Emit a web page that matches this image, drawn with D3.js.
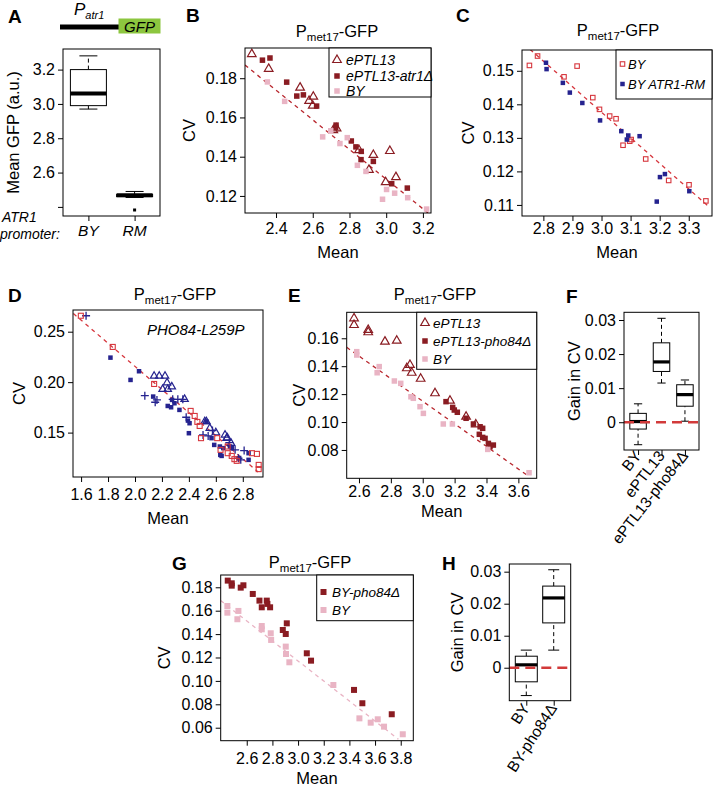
<!DOCTYPE html>
<html>
<head>
<meta charset="utf-8" />
<script src="https://cdn.jsdelivr.net/npm/d3@7"></script>
<style>
  body { margin: 0; background: #fff; }
  svg text { font-family: "Liberation Sans", Arial, sans-serif; fill: #000; }
</style>
</head>
<body>
<script>

// ---- data ----

// A: mean GFP boxplots [lower whisker, q1, median, q3, upper whisker]
var aCats = ["BY", "RM"];
var aStats = [[2.97, 2.99, 3.06, 3.20, 3.28], [2.455, 2.46, 2.468, 2.472, 2.49]];
var aOutliers = [["RM", 2.382]];
var aTicks = [2.4, 2.6, 2.8, 3.0, 3.2];
var aTickLabels = ["", "2.6", "2.8", "3.0", "3.2"];

// B: [mean, CV]
var bPTL13 = [[2.268,0.1923],[2.36,0.1848],[2.531,0.1752],[2.58,0.1684],[2.603,0.1706],[2.6,0.166],
  [2.712,0.1535],[2.73,0.1544],[2.852,0.1433],[2.93,0.1409],[2.906,0.1333],[3.02,0.1429],[2.997,0.127],[3.053,0.1296]];
var bAtr1 = [[2.326,0.1892],[2.367,0.1903],[2.458,0.178],[2.513,0.1709],[2.549,0.1715],[2.621,0.1658],
  [2.727,0.1561],[2.725,0.1549],[2.81,0.148],[2.835,0.145],[2.864,0.1427],[2.863,0.1385],[2.93,0.1376],[3.03,0.1262],[3.115,0.124]];
var bBY = [[2.353,0.1781],[2.447,0.1682],[2.654,0.1501],[2.698,0.1532],[2.748,0.1467],[2.788,0.1497],
  [2.843,0.1356],[2.89,0.1325],[2.98,0.1183],[3.002,0.1233],[3.046,0.1214],[3.117,0.1191],[3.22,0.1133]];
var bFit = [[2.231,0.1867],[3.228,0.1113]];
var bXTicks = [2.4, 2.6, 2.8, 3.0, 3.2];
var bYTicks = [0.12, 0.14, 0.16, 0.18];

// C
var cBY = [[2.752,0.1516],[2.78,0.1544],[2.871,0.1482],[2.916,0.1514],[2.97,0.142],[2.993,0.1385],[3.028,0.1365],
  [3.05,0.1357],[3.074,0.1278],[3.097,0.129],[3.102,0.1295],[3.152,0.1237],[3.231,0.1173],[3.301,0.116],[3.359,0.1112]];
var cRM = [[2.809,0.1524],[2.811,0.1505],[2.867,0.1464],[2.891,0.1435],[2.934,0.1404],[2.995,0.1352],[3.068,0.132],
  [3.087,0.1295],[3.092,0.1307],[3.131,0.1305],[3.201,0.1183],[3.218,0.1192],[3.19,0.111],[3.302,0.1141]];
var cFit = [[2.754,0.1564],[3.369,0.1095]];
var cXTicks = [2.8, 2.9, 3.0, 3.1, 3.2, 3.3];
var cYTicks = [0.11, 0.12, 0.13, 0.14, 0.15];

// D
var dRedSq = [[1.598,0.2658],[1.835,0.2349],[2.142,0.1982],[2.413,0.1715],[2.443,0.1665],[2.463,0.1606],[2.48,0.1566],
  [2.49,0.1445],[2.61,0.1445],[2.635,0.1329],[2.688,0.1362],[2.688,0.1296],[2.718,0.1269],[2.738,0.1237],
  [2.755,0.122],[2.868,0.1296],[2.905,0.1289],[2.918,0.118],[2.918,0.1138]];
var dBlueSq = [[1.818,0.2243],[1.967,0.2022],[2.03,0.2108],[2.135,0.1857],[2.243,0.1764],[2.268,0.1751],[2.275,0.1824],
  [2.293,0.1791],[2.33,0.1725],[2.393,0.1619],[2.405,0.1593],[2.4,0.1494],[2.53,0.161],[2.568,0.1445],[2.588,0.1378],
  [2.63,0.1362],[2.655,0.1346],[2.643,0.1269],[2.633,0.1279],[2.705,0.1362],[2.718,0.1346],[2.768,0.1246],
  [2.843,0.1296],[2.843,0.123]];
var dPlus = [[1.637,0.2658],[2.073,0.1866],[2.163,0.1824],[2.15,0.1801],[2.28,0.183],[2.318,0.183],[2.355,0.183],
  [2.38,0.1652],[2.505,0.1477],[2.543,0.1467],[2.575,0.152],[2.7,0.14],[2.743,0.1329],[2.768,0.1246],[2.785,0.123],[2.81,0.1322]];
var dTri = [[2.142,0.2061],[2.18,0.2061],[2.223,0.2061],[2.238,0.1995],[2.205,0.193],[2.243,0.193],[2.273,0.1955],
  [2.368,0.1831],[2.518,0.1609],[2.53,0.161],[2.555,0.1544],[2.6,0.15],[2.668,0.1477],[2.68,0.1445],[2.685,0.145],[2.713,0.1395]];
var dFit = [[1.543,0.268],[2.913,0.111]];
var dXTicks = [1.6, 1.8, 2.0, 2.2, 2.4, 2.6, 2.8];
var dYTicks = [0.15, 0.20, 0.25];

// E
var ePTL13 = [[2.569,0.1743],[2.569,0.1695],[2.658,0.166],[2.658,0.1643],[2.763,0.1576],[2.837,0.1583],[2.9,0.1385],
  [2.92,0.1409],[2.931,0.1353],[2.987,0.131],[3.077,0.1206],[3.171,0.1153],[3.272,0.1038],[3.333,0.0983]];
var ePho = [[3.146,0.1146],[3.188,0.1105],[3.198,0.1086],[3.217,0.107],[3.272,0.1027],[3.318,0.0986],[3.355,0.0912],
  [3.376,0.089],[3.376,0.0955],[3.36,0.0966],[3.391,0.0883],[3.412,0.0847],[3.443,0.0835],[3.422,0.0823]];
var eBY = [[2.586,0.1504],[2.586,0.148],[2.727,0.1397],[2.714,0.1353],[2.822,0.1294],[2.862,0.1277],[2.926,0.1181],
  [2.941,0.117],[2.983,0.111],[3.004,0.1062],[3.129,0.0986],[3.186,0.0986],[3.408,0.0804],[3.667,0.0637]];
var eFit = [[2.523,0.1535],[3.66,0.0615]];
var eXTicks = [2.6, 2.8, 3.0, 3.2, 3.4, 3.6];
var eYTicks = [0.08, 0.10, 0.12, 0.14, 0.16];

// F: gain in CV boxplots
var fCats = ["BY", "ePTL13", "ePTL13-pho84Δ"];
var fStats = [[-0.0066, -0.002, 0.0002, 0.0026, 0.0054], [0.0115, 0.0149, 0.0177, 0.0233, 0.0305], [0.0003, 0.0047, 0.0081, 0.011, 0.0124]];
var gainTicks = [0, 0.01, 0.02, 0.03];
var gainLabels = ["0", "0.01", "0.02", "0.03"];

// G
var gPho = [[2.452,0.1857],[2.483,0.1834],[2.483,0.1814],[2.553,0.1797],[2.574,0.1817],[2.647,0.1743],[2.699,0.1686],
  [2.717,0.1629],[2.756,0.1686],[2.761,0.1658],[2.782,0.1629],[2.881,0.1435],[2.912,0.1492],[2.904,0.1401],
  [3.068,0.1236],[3.101,0.1173],[3.436,0.0923],[3.501,0.0809],[3.73,0.0715]];
var gBY = [[2.449,0.164],[2.449,0.1583],[2.535,0.1598],[2.527,0.1527],[2.717,0.1469],[2.717,0.1441],[2.787,0.1407],
  [2.79,0.135],[2.904,0.1293],[2.906,0.123],[2.932,0.1159],[3.275,0.0965],[3.478,0.068],[3.566,0.0643],
  [3.621,0.0672],[3.67,0.0609],[3.816,0.0544]];
var gFit = [[2.397,0.1686],[3.782,0.0501]];
var gXTicks = [2.6, 2.8, 3.0, 3.2, 3.4, 3.6, 3.8];
var gYTicks = [0.06, 0.08, 0.10, 0.12, 0.14, 0.16, 0.18];

// H
var hCats = ["BY", "BY-pho84Δ"];
var hStats = [[-0.0087, -0.0044, 0.0009, 0.0036, 0.0055], [0.0055, 0.014, 0.0218, 0.0255, 0.0306]];

// ---- colours ----
var darkRed = "#8a1c22", pink = "#e9b4c4", red = "#d6363d", navy = "#25238f";
var fitRed = "#b8262d", zeroRed = "#d23a3a";

var svg = d3.select("body").append("svg").attr("width", 713).attr("height", 786);

var tickFont = 16;

function styleAxis(sel) {
    sel.attr("font-family", null).attr("font-size", null);
    sel.select(".domain").remove();
    sel.selectAll("line").attr("stroke", "#000");
    sel.selectAll("text").attr("font-size", tickFont).attr("fill", "#000");
}

function frame(g, o) {
    g.append("rect").attr("x", o.l).attr("y", o.t)
        .attr("width", o.r - o.l).attr("height", o.b - o.t)
        .attr("fill", "none").attr("stroke", "#000").attr("stroke-width", 1);
}

function drawSymbol(g, shape, color, px, py, size) {
    if (shape == "tri") {
        g.append("path").attr("d", d3.symbol(d3.symbolTriangle, size || 32)())
            .attr("transform", "translate(" + px + "," + py + ")")
            .attr("fill", "none").attr("stroke", color).attr("stroke-width", 1.2);
    } else if (shape == "sq") {
        size = size || 5.5;
        g.append("rect").attr("x", px - size / 2).attr("y", py - size / 2)
            .attr("width", size).attr("height", size).attr("fill", color);
    } else if (shape == "osq") {
        size = size || 5.5;
        g.append("rect").attr("x", px - size / 2).attr("y", py - size / 2)
            .attr("width", size).attr("height", size)
            .attr("fill", "none").attr("stroke", color).attr("stroke-width", 1.1);
    } else if (shape == "plus") {
        g.append("path").attr("d", "M-4,0H4M0,-4V4")
            .attr("transform", "translate(" + px + "," + py + ")")
            .attr("stroke", color).attr("stroke-width", 1.3);
    }
}

function title(x, y) {
    var t = svg.append("text").attr("x", x).attr("y", y).attr("text-anchor", "middle").attr("font-size", 16.5);
    t.append("tspan").text("P");
    t.append("tspan").attr("dy", 4).attr("font-size", 11.5).text("met17");
    t.append("tspan").attr("dy", -4).text("-GFP");
}

function letter(s, x, y) {
    svg.append("text").attr("x", x).attr("y", y).attr("font-size", 19)
        .attr("font-weight", "bold").text(s);
}

function scatterPanel(o) {
    var x = d3.scaleLinear().domain(o.xDom).range([o.l, o.r]);
    var y = d3.scaleLinear().domain(o.yDom).range([o.b, o.t]);
    var g = svg.append("g");

    g.append("g").attr("transform", "translate(0," + o.b + ")")
        .call(d3.axisBottom(x).tickValues(o.xTicks).tickSize(5).tickPadding(o.xPad).tickFormat(d3.format(".1f")))
        .call(styleAxis);
    g.append("g").attr("transform", "translate(" + o.l + ",0)")
        .call(d3.axisLeft(y).tickValues(o.yTicks).tickSize(5).tickPadding(3).tickFormat(d3.format(o.yFmt)))
        .call(styleAxis);

    var clipId = "clip" + o.id;
    svg.append("clipPath").attr("id", clipId).append("rect")
        .attr("x", o.l).attr("y", o.t).attr("width", o.r - o.l).attr("height", o.b - o.t);
    var plot = g.append("g").attr("clip-path", "url(#" + clipId + ")");

    plot.append("line")
        .attr("x1", x(o.fit[0][0])).attr("y1", y(o.fit[0][1]))
        .attr("x2", x(o.fit[1][0])).attr("y2", y(o.fit[1][1]))
        .attr("stroke", o.fitColor).attr("stroke-width", 1.3).attr("stroke-dasharray", "4,4");

    o.series.forEach(function (s) {
        s.data.forEach(function (d) {
            drawSymbol(plot, s.shape, s.color, x(d[0]), y(d[1]), s.size);
        });
    });

    frame(g, o);

    if (o.legend) {
        var L = o.legend;
        g.append("rect").attr("x", L.l).attr("y", o.t).attr("width", o.r - L.l).attr("height", L.b - o.t)
            .attr("fill", "#fff").attr("stroke", "#000");
        o.series.forEach(function (s, i) {
            drawSymbol(g, s.shape, s.color, L.symX, L.rows[i], s.size);
            g.append("text").attr("x", L.textX).attr("y", L.rows[i] + 5)
                .attr("font-size", L.font).attr("font-style", "italic").text(s.label);
        });
    }

    // axis titles
    g.append("text").attr("x", (o.l + o.r) / 2).attr("y", o.meanY)
        .attr("text-anchor", "middle").attr("font-size", 16.5).text("Mean");
    g.append("text").attr("transform", "translate(" + o.cvX + "," + (o.t + o.b) / 2 + ") rotate(-90)")
        .attr("text-anchor", "middle").attr("font-size", 16.5).text("CV");
}

function boxPanel(o) {
    var x = d3.scalePoint().domain(o.cats).range([o.l, o.r]).padding(o.pad);
    var y = d3.scaleLinear().domain(o.yDom).range([o.b, o.t]);
    var g = svg.append("g");

    g.append("g").attr("transform", "translate(" + o.l + ",0)")
        .call(d3.axisLeft(y).tickValues(o.yTicks).tickSize(5).tickPadding(3)
            .tickFormat(function (d, i) { return o.yLabels[i]; }))
        .call(styleAxis);
    g.append("g").attr("transform", "translate(0," + o.b + ")")
        .call(d3.axisBottom(x).tickSize(5).tickFormat(""))
        .call(styleAxis);

    o.stats.forEach(function (s, i) {
        var cx = x(o.cats[i]), hw = o.boxW / 2;
        var wg = g.append("g").attr("stroke", "#000").attr("stroke-width", 1);
        wg.append("line").attr("x1", cx).attr("x2", cx).attr("y1", y(s[0])).attr("y2", y(s[1]))
            .attr("stroke-dasharray", "4,3");
        wg.append("line").attr("x1", cx).attr("x2", cx).attr("y1", y(s[3])).attr("y2", y(s[4]))
            .attr("stroke-dasharray", "4,3");
        wg.append("line").attr("x1", cx - hw / 2).attr("x2", cx + hw / 2).attr("y1", y(s[0])).attr("y2", y(s[0]));
        wg.append("line").attr("x1", cx - hw / 2).attr("x2", cx + hw / 2).attr("y1", y(s[4])).attr("y2", y(s[4]));
        wg.append("rect").attr("x", cx - hw).attr("y", y(s[3])).attr("width", o.boxW)
            .attr("height", Math.max(0.5, y(s[1]) - y(s[3]))).attr("fill", "#fff");
        wg.append("line").attr("x1", cx - hw).attr("x2", cx + hw).attr("y1", y(s[2])).attr("y2", y(s[2]))
            .attr("stroke-width", o.medW);
    });

    if (o.outliers) {
        o.outliers.forEach(function (d) {
            g.append("rect").attr("x", x(d[0]) - 1.5).attr("y", y(d[1]) - 1.5)
                .attr("width", 3).attr("height", 3).attr("fill", "#000");
        });
    }

    if (o.zero) {
        g.append("line").attr("x1", o.l).attr("x2", o.r).attr("y1", y(0)).attr("y2", y(0))
            .attr("stroke", zeroRed).attr("stroke-width", 2.6).attr("stroke-dasharray", "10,6");
    }

    frame(g, o);

    if (o.rot) {
        o.cats.forEach(function (c) {
            g.append("text").attr("text-anchor", "end").attr("font-size", 15.5)
                .attr("transform", "translate(" + (x(c) + 4) + "," + o.labY + ") rotate(" + o.rot + ")")
                .text(c);
        });
    }
    g.append("text").attr("transform", "translate(" + o.yLabX + "," + (o.t + o.b) / 2 + ") rotate(-90)")
        .attr("text-anchor", "middle").attr("font-size", 16.5).text(o.yTitle);
    return x;
}

// ---- A ----
letter("A", 8, 23);
svg.append("rect").attr("x", 60).attr("y", 24.5).attr("width", 59).attr("height", 5).attr("fill", "#000");
svg.append("rect").attr("x", 118.5).attr("y", 18.5).attr("width", 42).attr("height", 15).attr("fill", "#8cc63f");
svg.append("text").attr("x", 139.5).attr("y", 31.5).attr("text-anchor", "middle")
    .attr("font-size", 15).attr("font-style", "italic").text("GFP");
var pt = svg.append("text").attr("x", 74).attr("y", 15).attr("font-size", 17).attr("font-style", "italic");
pt.append("tspan").text("P");
pt.append("tspan").attr("dy", 4).attr("font-size", 11).text("atr1");

var ax = boxPanel({ l: 63, r: 160, t: 49, b: 216, cats: aCats, pad: 0.55, yDom: [2.347, 3.32],
    stats: aStats, outliers: aOutliers, yTicks: aTicks, yLabels: aTickLabels, boxW: 36, medW: 4,
    yLabX: 19, yTitle: "Mean GFP (a.u.)" });
aCats.forEach(function (c) {
    svg.append("text").attr("x", ax(c)).attr("y", 236).attr("text-anchor", "middle")
        .attr("font-size", 15.5).attr("font-style", "italic").text(c);
});
svg.append("text").attr("x", 2).attr("y", 222).attr("font-size", 14).attr("font-style", "italic").text("ATR1");
svg.append("text").attr("x", 0).attr("y", 239).attr("font-size", 14).attr("font-style", "italic").text("promoter:");

// ---- B ----
letter("B", 186, 22);
title(337, 37);
scatterPanel({ id: "B", l: 245, r: 431, t: 48, b: 213, xDom: [2.231, 3.244], yDom: [0.1113, 0.1954],
    xTicks: bXTicks, yTicks: bYTicks, yFmt: ".2f", fit: bFit, fitColor: fitRed, xPad: 5,
    series: [
        { data: bPTL13, shape: "tri", color: darkRed, label: "ePTL13" },
        { data: bAtr1, shape: "sq", color: darkRed, label: "ePTL13-atr1Δ" },
        { data: bBY, shape: "sq", color: pink, label: "BY" }
    ],
    legend: { l: 329, b: 97, symX: 337, textX: 346, rows: [60, 76, 91], font: 14 },
    meanY: 258, cvX: 195 });

// ---- C ----
letter("C", 456, 22);
title(618, 36);
scatterPanel({ id: "C", l: 522, r: 712, t: 50, b: 216, xDom: [2.7265, 3.38], yDom: [0.1067, 0.1562],
    xTicks: cXTicks, yTicks: cYTicks, yFmt: ".2f", fit: cFit, fitColor: red, xPad: 2,
    series: [
        { data: cBY, shape: "osq", color: red, label: "BY", size: 4.5 },
        { data: cRM, shape: "sq", color: navy, label: "BY ATR1-RM", size: 4.5 }
    ],
    legend: { l: 616, b: 99, symX: 622.5, textX: 628, rows: [64, 84], font: 13 },
    meanY: 258, cvX: 474 });

// ---- D ----
letter("D", 8, 302);
title(175, 300);
scatterPanel({ id: "D", l: 73, r: 263, t: 310, b: 477, xDom: [1.54, 2.95], yDom: [0.106, 0.2715],
    xTicks: dXTicks, yTicks: dYTicks, yFmt: ".2f", fit: dFit, fitColor: red, xPad: 7,
    series: [
        { data: dTri, shape: "tri", color: navy, size: 24 },
        { data: dPlus, shape: "plus", color: navy },
        { data: dBlueSq, shape: "sq", color: navy, size: 4.5 },
        { data: dRedSq, shape: "osq", color: red, size: 5 }
    ],
    meanY: 524, cvX: 25 });
svg.append("text").attr("x", 147).attr("y", 335).attr("font-size", 15)
    .attr("font-style", "italic").text("PHO84-L259P");

// ---- E ----
letter("E", 288, 302);
title(435, 300);
scatterPanel({ id: "E", l: 346.7, r: 536.7, t: 312.3, b: 478.3, xDom: [2.523, 3.715], yDom: [0.0597, 0.1786],
    xTicks: eXTicks, yTicks: eYTicks, yFmt: ".2f", fit: eFit, fitColor: fitRed, xPad: 2,
    series: [
        { data: ePTL13, shape: "tri", color: darkRed, label: "ePTL13" },
        { data: ePho, shape: "sq", color: darkRed, label: "ePTL13-pho84Δ" },
        { data: eBY, shape: "sq", color: pink, label: "BY" }
    ],
    legend: { l: 416.7, b: 369.3, symX: 425, textX: 433, rows: [323, 341, 359], font: 13.5 },
    meanY: 517, cvX: 305 });

// ---- F ----
letter("F", 566, 303);
boxPanel({ l: 624, r: 699, t: 312.3, b: 450, cats: fCats, pad: 0.6, yDom: [-0.00815, 0.03226],
    stats: fStats, yTicks: gainTicks, yLabels: gainLabels, boxW: 16.5, medW: 3.2, zero: true,
    rot: -52, labY: 456, yLabX: 580, yTitle: "Gain in CV" });

// ---- G ----
letter("G", 172, 570);
title(310, 568);
scatterPanel({ id: "G", l: 220.7, r: 413.3, t: 575, b: 740.7, xDom: [2.397, 3.898], yDom: [0.0489, 0.1905],
    xTicks: gXTicks, yTicks: gYTicks, yFmt: ".2f", fit: gFit, fitColor: pink, xPad: 7,
    series: [
        { data: gPho, shape: "sq", color: darkRed, label: "BY-pho84Δ", size: 6 },
        { data: gBY, shape: "sq", color: pink, label: "BY", size: 6 }
    ],
    legend: { l: 316.7, b: 620.7, symX: 323.5, textX: 332, rows: [592, 610], font: 13.5 },
    meanY: 784, cvX: 170 });

// ---- H ----
letter("H", 442, 570);
boxPanel({ l: 509.3, r: 570.7, t: 564, b: 700.7, cats: hCats, pad: 0.62, yDom: [-0.0103, 0.0324],
    stats: hStats, yTicks: gainTicks, yLabels: gainLabels, boxW: 22, medW: 3.2, zero: true,
    rot: -57, labY: 708, yLabX: 463, yTitle: "Gain in CV" });

</script>
</body>
</html>
